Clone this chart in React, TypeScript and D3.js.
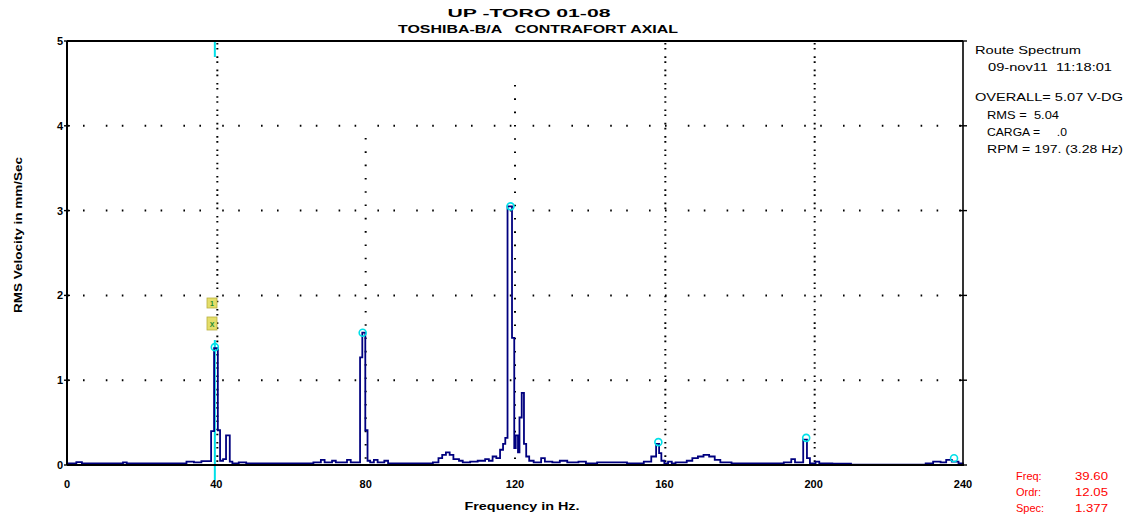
import React from "react";
import * as d3 from "d3";

// ---- data ----
const xTicks = [0, 40, 80, 120, 160, 200, 240];
const yTicks = [0, 1, 2, 3, 4, 5];

// spectrum as step points: frequency (Hz) -> RMS velocity (mm/s)
const specFreq = [
  0, 2.5, 4, 15, 16, 30, 32, 34, 36, 38.6, 39.4, 40.4, 41, 41.8, 42.6, 43.6, 44.3, 46, 48,
  56, 66, 68, 69, 71, 72, 75, 76, 78.5, 79.1, 79.9, 80.5, 81.2, 82.2, 83.2, 85, 86,
  98, 99.5, 100.5, 101.5, 102.5, 103.5, 105, 106, 108, 110, 112, 113, 114, 115,
  116, 116.8, 117.4, 118, 119.2, 119.8, 120.2, 120.8, 121.2, 121.8, 122.4, 123,
  123.8, 125, 127, 128, 130, 132, 134, 137, 139, 142, 150, 154.5, 156.5, 157.8, 158.6,
  159.2, 160, 161, 162, 163, 166, 167.5, 169, 170.5, 172, 173.5, 175, 178, 186, 192,
  194, 195, 197.2, 198.2, 199, 200.5, 201.5, 205, 210, 230, 232, 234, 235.5, 237,
  238.8, 240,
];
const specAmp = [
  0.02, 0.035, 0.02, 0.03, 0.02, 0.02, 0.04, 0.03, 0.045, 0.4, 1.377, 0.41, 0.05, 0.07, 0.35, 0.04, 0.02, 0.03, 0.02,
  0.02, 0.03, 0.06, 0.03, 0.05, 0.03, 0.06, 0.03, 1.27, 1.56, 0.41, 0.05, 0.03, 0.06, 0.03, 0.05, 0.02,
  0.03, 0.08, 0.12, 0.15, 0.12, 0.07, 0.05, 0.03, 0.04, 0.05, 0.07, 0.05, 0.1, 0.08,
  0.18, 0.25, 0.32, 3.05, 1.5, 0.2, 0.35, 0.15, 0.56, 0.85, 0.25, 0.1,
  0.05, 0.03, 0.08, 0.04, 0.03, 0.05, 0.03, 0.04, 0.02, 0.03, 0.02, 0.04, 0.1, 0.25, 0.14,
  0.05, 0.02, 0.04, 0.02, 0.03, 0.05, 0.08, 0.1, 0.12, 0.1, 0.06, 0.03, 0.02, 0.02, 0.03,
  0.07, 0.03, 0.3, 0.08, 0.02, 0.04, 0.02, 0.015, 0.005, 0.02, 0.04, 0.03, 0.06, 0.04,
  0.02, 0.0,
];

// harmonic markers (multiples of 39.6 Hz)
const markerOrder = [1, 2, 3, 4, 5, 6];
const markerAmp = [1.39, 1.56, 3.05, 0.27, 0.32, 0.08];
const cursorFreq = 39.6;

const titleLines = ["UP -TORO 01-08", "TOSHIBA-B/A   CONTRAFORT AXIAL"];
const infoLines = [
  { t: "Route Spectrum", dx: 0, y: 54, w: 106 },
  { t: "09-nov11  11:18:01", dx: 13, y: 71, w: 124 },
  { t: "OVERALL= 5.07 V-DG", dx: 0, y: 101, w: 148 },
  { t: "RMS =  5.04", dx: 12, y: 119, w: 72 },
  { t: "CARGA =     .0", dx: 12, y: 136, w: 80 },
  { t: "RPM = 197. (3.28 Hz)", dx: 12, y: 153, w: 136 },
];
const cursorLabels = ["Freq:", "Ordr:", "Spec:"];
const cursorValues = ["39.60", "12.05", "1.377"];

const W = 1126;
const H = 518;
const M = { left: 67, right: 963, top: 41, bottom: 465 };
const NAVY = "#00007f";
const CYAN = "#00e0e8";
const FONT = "'Liberation Sans', Arial, sans-serif";

export default function App() {
  const x = d3.scaleLinear().domain([0, 240]).range([M.left, M.right]);
  const y = d3.scaleLinear().domain([0, 5]).range([M.bottom, M.top]);

  const pts: [number, number][] = specFreq.map((f, i) => [f, specAmp[i]]);
  const line = d3
    .line<[number, number]>()
    .x((d) => x(d[0]))
    .y((d) => y(d[1]))
    .curve(d3.curveStepAfter);
  const path = line(pts) || "";

  const cx = x(cursorFreq);

  return (
    <svg
      width={W}
      height={H}
      style={{ position: "absolute", left: 0, top: 0, background: "#fff" }}
      fontFamily={FONT}
    >
      {/* title */}
      <text x={529} y={17} textAnchor="middle" fontSize={11} fontWeight="bold" textLength={163} lengthAdjust="spacingAndGlyphs">
        {titleLines[0]}
      </text>
      <text x={538} y={33} textAnchor="middle" fontSize={11} fontWeight="bold" textLength={280} lengthAdjust="spacingAndGlyphs" style={{ whiteSpace: "pre" }}>
        {titleLines[1]}
      </text>

      {/* horizontal dotted grid */}
      {yTicks.filter((t) => t > 0 && t < 5).map((t) => (
        <line key={"hg" + t} x1={M.left} x2={M.right} y1={y(t)} y2={y(t)} stroke="#000" strokeWidth={2} strokeDasharray="1.6,14.4,1.6,21.2" />
      ))}
      {/* vertical dotted grid */}
      {[40, 160, 200].map((t) => (
        <line key={"vg" + t} x1={x(t) + 1} x2={x(t) + 1} y1={M.top + 2} y2={M.bottom} stroke="#000" strokeWidth={2} strokeDasharray="1.6,3.4,1.6,6.7" />
      ))}
      <line x1={x(80)} x2={x(80)} y1={138} y2={M.bottom} stroke="#000" strokeWidth={2} strokeDasharray="1.6,11.7" />
      <line x1={x(120)} x2={x(120)} y1={85} y2={M.bottom} stroke="#000" strokeWidth={2} strokeDasharray="1.6,11.7" />

      {/* cursor */}
      <line x1={cx} x2={cx} y1={M.top} y2={57} stroke={CYAN} strokeWidth={2} />
      <line x1={cx} x2={cx} y1={340} y2={480} stroke={CYAN} strokeWidth={2} />

      {/* spectrum */}
      <path d={path} fill="none" stroke={NAVY} strokeWidth={1.8} />

      {/* harmonic markers */}
      {markerOrder.map((k, i) => (
        <circle key={"m" + k} cx={x(k * cursorFreq)} cy={y(markerAmp[i])} r={3.5} fill="none" stroke={CYAN} strokeWidth={1.6} />
      ))}

      {/* small harmonic label boxes */}
      <rect x={207} y={298} width={10} height={10} fill="#e4de6a" stroke="#b8b040" strokeWidth={0.8} />
      <text x={212} y={306} textAnchor="middle" fontSize={7} fill="#208a30" fontWeight="bold">1</text>
      <rect x={207} y={317} width={10} height={13} fill="#e4de6a" stroke="#b8b040" strokeWidth={0.8} />
      <text x={212} y={327} textAnchor="middle" fontSize={7} fill="#208a30" fontWeight="bold">X</text>

      {/* axes frame */}
      <line x1={M.left} x2={M.right} y1={M.top} y2={M.top} stroke="#000" strokeWidth={2.2} />
      <line x1={M.left} x2={M.right + 1} y1={M.bottom} y2={M.bottom} stroke="#000" strokeWidth={2.2} />
      <line x1={M.left} x2={M.left} y1={M.top} y2={M.bottom} stroke="#000" strokeWidth={2} />
      <line x1={M.right} x2={M.right} y1={M.top} y2={M.bottom} stroke="#000" strokeWidth={1.6} />

      {/* y ticks */}
      {yTicks.map((t) => (
        <g key={"yt" + t}>
          <line x1={M.left - 3} x2={M.left + 3} y1={y(t)} y2={y(t)} stroke="#000" strokeWidth={1.4} />
          <line x1={M.right - 4} x2={M.right + 4} y1={y(t)} y2={y(t)} stroke="#000" strokeWidth={1.4} />
          <text x={M.left - 4} y={y(t) + 4} textAnchor="end" fontSize={11} fontWeight="bold">
            {t}
          </text>
        </g>
      ))}

      {/* x tick labels */}
      {xTicks.map((t) => (
        <text key={"xt" + t} x={x(t)} y={488} textAnchor="middle" fontSize={11} fontWeight="bold">
          {t}
        </text>
      ))}

      {/* axis titles */}
      <text x={522} y={510} textAnchor="middle" fontSize={11} fontWeight="bold" textLength={115} lengthAdjust="spacingAndGlyphs">
        Frequency in Hz.
      </text>
      <text transform="translate(22,235) rotate(-90)" textAnchor="middle" fontSize={11} fontWeight="bold" textLength={156} lengthAdjust="spacingAndGlyphs">
        RMS Velocity in mm/Sec
      </text>

      {/* info block */}
      {infoLines.map((l, i) => (
        <text key={"il" + i} x={975 + l.dx} y={l.y} fontSize={11} textLength={l.w} lengthAdjust="spacingAndGlyphs" style={{ whiteSpace: "pre" }}>
          {l.t}
        </text>
      ))}

      {/* cursor readout */}
      {cursorLabels.map((lab, i) => (
        <g key={"cr" + i} fill="#ff0000" fontSize={11}>
          <text x={1016} y={480 + i * 16}>{lab}</text>
          <text x={1075} y={480 + i * 16} textLength={33} lengthAdjust="spacingAndGlyphs">{cursorValues[i]}</text>
        </g>
      ))}
    </svg>
  );
}
